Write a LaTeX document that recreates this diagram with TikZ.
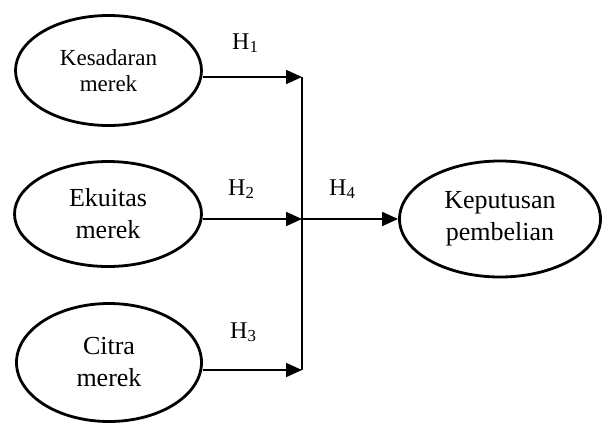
\documentclass[tikz,border=0pt]{standalone}
\usepackage{fontspec}
\setmainfont{Liberation Serif}
\usetikzlibrary{shapes.geometric, arrows.meta}

\begin{document}
\begin{tikzpicture}[
    x=1pt, y=-1pt,
    construct/.style={ellipse, draw, line width=2.8pt, inner sep=0pt, align=center, font=\fontsize{26}{32}\selectfont},
    hyp/.style={font=\fontsize{24}{28}\selectfont, inner sep=0pt, anchor=base west},
    arrow/.style={-{Triangle[length=16pt, width=14pt]}, line width=1.8pt}
]

\useasboundingbox (0,0) rectangle (603,426);

\node[construct, minimum width=186pt, minimum height=110pt, font=\fontsize{23}{26}\selectfont] (kesadaran) at (108.5,70.5) {Kesadaran\\merek};
\node[construct, minimum width=187pt, minimum height=105pt] (ekuitas) at (108,214) {Ekuitas\\merek};
\node[construct, minimum width=185pt, minimum height=118pt] (citra) at (109,362.5) {Citra\\merek};
\node[construct, minimum width=201pt, minimum height=116pt] (keputusan) at (500,219) {Keputusan\\pembelian};

\coordinate (j1) at (302,77);
\coordinate (j2) at (302,219);
\coordinate (j3) at (302,370);

\draw[line width=1.5pt] (j1) -- (j3);

\draw[arrow] (kesadaran.east |- j1) -- (j1);
\draw[arrow] (ekuitas.east |- j2) -- (j2);
\draw[arrow] (citra.east |- j3) -- (j3);
\draw[arrow] (j2) -- (keputusan.west);

\node[hyp] (h1) at (232,49) {H\textsubscript{1}};
\node[hyp] (h2) at (228,195) {H\textsubscript{2}};
\node[hyp] (h3) at (230,338) {H\textsubscript{3}};
\node[hyp] (h4) at (329,195) {H\textsubscript{4}};

\end{tikzpicture}
\end{document}
